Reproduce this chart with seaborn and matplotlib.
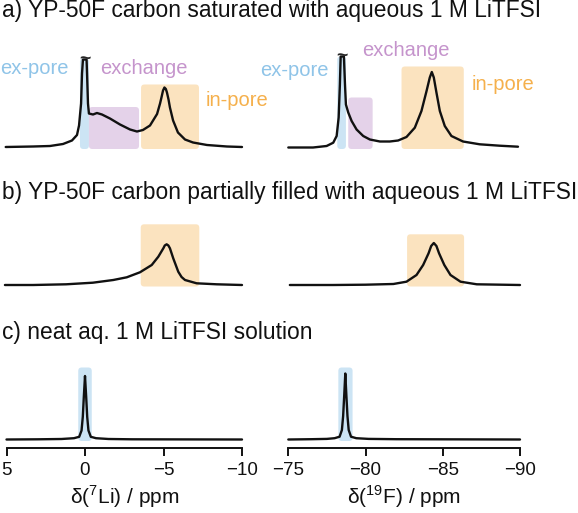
import matplotlib
matplotlib.use("Agg")
import matplotlib.pyplot as plt
import seaborn as sns
import pandas as pd
from matplotlib.patches import FancyBboxPatch

# ---- spectra (chemical shift in ppm, intensity in arbitrary units) ----
# a) saturated, 7Li
li_sat_ppm = [5.05, 3.31, 2.23, 1.40, 0.83, 0.51, 0.38, 0.25, 0.19, 0.13,
              -0.10, -0.13, -0.19, -0.25, -0.51, -0.76, -1.08, -1.59, -2.23, -2.87,
              -3.31, -3.69, -4.14, -4.59, -4.78, -4.87, -4.97, -5.06, -5.15, -5.22,
              -5.32, -5.41, -5.61, -5.92, -6.37, -6.88, -7.77, -9.04, -10.0]
li_sat_int = [0.5, 1, 1.5, 3.5, 7, 12.5, 22, 44, 74, 88,
              88, 74, 44, 34, 33, 34.5, 33, 29, 23, 18,
              16, 17.5, 22, 33.5, 44, 50, 57, 60, 58.5, 55,
              48, 40, 27, 15, 8, 5, 2.5, 1, 0.5]
# a) saturated, 19F
f_sat_ppm = [-75.0, -76.6, -77.48, -77.91, -78.13, -78.26, -78.34, -78.39, -78.60, -78.67,
             -78.73, -78.88, -79.10, -79.42, -79.85, -80.28, -80.93, -81.57, -82.11, -82.65,
             -83.19, -83.62, -83.95, -84.16, -84.29, -84.42, -84.59, -84.81, -85.13, -85.56,
             -86.31, -87.39, -88.68, -89.87]
f_sat_int = [0, 0, 1.5, 4.8, 11.5, 30, 63, 91, 91, 63,
             43, 35, 26.5, 18, 11.5, 8, 6, 6, 7, 10.5,
             19.8, 36.5, 56.5, 70, 75.5, 70, 55, 36.5, 21.5, 11.5,
             6, 3.2, 1.8, 0.8]

# b) partially filled
li_part_ppm = [5.1, 3.3, 1.2, -0.5, -1.8, -2.66, -3.5, -4.25, -4.67, -4.99,
               -5.08, -5.2, -5.31, -5.41, -5.62, -5.94, -6.15, -6.37, -7.11, -8.39, -10.0]
li_part_int = [0, 0, 0.7, 2.3, 5.0, 7.7, 12.7, 20, 28.3, 36.7,
               39.5, 40.7, 39.5, 36.7, 26.7, 13.3, 8, 5.0, 1.7, 0.7, 0]
f_part_ppm = [-75.1, -77.9, -80.0, -81.8, -82.65, -83.3, -83.73, -84.08, -84.25, -84.42,
              -84.59, -84.76, -85.1, -85.5, -86.15, -87.2, -90.0]
f_part_int = [0, 0, 0.3, 1.0, 3.3, 10, 20, 31.7, 39, 42,
              39, 31.7, 20, 10, 3.3, 0.7, 0]

# c) neat solution
li_neat_ppm = [5.0, 3.0, 1.5, 0.7, 0.37, 0.22, 0.14, 0.075, 0.0, -0.075,
               -0.14, -0.22, -0.37, -0.7, -1.5, -3.0, -10.0]
li_neat_int = [0.0, 0.2, 0.5, 1.3, 2.7, 9.0, 22.7, 42.7, 63.5, 42.7,
               22.7, 9.0, 2.7, 1.3, 0.5, 0.2, 0.0]
f_neat_ppm = [-75.0, -76.5, -77.5, -78.0, -78.32, -78.47, -78.55, -78.62, -78.69, -78.76,
              -78.83, -78.91, -79.06, -79.4, -80.2, -82.0, -90.0]
f_neat_int = [0.0, 0.3, 0.6, 1.3, 2.8, 9.5, 23.5, 44.0, 66.0, 44.0,
              23.5, 9.5, 2.8, 1.3, 0.6, 0.3, 0.0]

# shaded regions: (environment, ppm from, ppm to, top intensity)
li_sat_regions = [("ex-pore", 0.32, -0.25, 89), ("exchange", -0.25, -3.44, 40.5), ("in-pore", -3.57, -7.26, 63)]
f_sat_regions = [("ex-pore", -78.17, -78.73, 91), ("exchange", -78.88, -80.46, 50), ("in-pore", -82.33, -86.36, 81)]
li_part_regions = [("in-pore", -3.55, -7.28, 60.7)]
f_part_regions = [("in-pore", -82.69, -86.38, 50.7)]
li_neat_regions = [("ex-pore", 0.43, -0.43, 72)]
f_neat_regions = [("ex-pore", -78.24, -79.16, 72)]

li_ticks = [5, 0, -5, -10]
f_ticks = [-75, -80, -85, -90]

titles = ["a) YP-50F carbon saturated with aqueous 1 M LiTFSI",
          "b) YP-50F carbon partially filled with aqueous 1 M LiTFSI",
          "c) neat aq. 1 M LiTFSI solution"]

fill_colors = {"ex-pore": "#cce4f4", "exchange": "#e4d2e9", "in-pore": "#fbe3bf"}
text_colors = {"ex-pore": "#8fc4e8", "exchange": "#c594cc", "in-pore": "#f5b04c"}

sns.set_style("ticks")
plt.rcParams['font.family'] = ['Liberation Sans', 'DejaVu Sans']
plt.rcParams['mathtext.fontset'] = 'custom'
plt.rcParams['mathtext.rm'] = 'Liberation Sans'

W, H = 578, 513
fig = plt.figure(figsize=(W / 100, H / 100), dpi=100)


def px_axes(x0, x1, ytop, ybot):
    return fig.add_axes([x0 / W, 1 - ybot / H, (x1 - x0) / W, (ybot - ytop) / H])


def draw_panel(ax, ppm, inten, regions, xlim, ylim, aspect):
    for name, p0, p1, top in regions:
        lo, hi = min(p0, p1), max(p0, p1)
        box = FancyBboxPatch((lo, -1.5), hi - lo, top + 1.5,
                             boxstyle="round,pad=0,rounding_size=0.22",
                             mutation_aspect=aspect, fc=fill_colors[name], ec="none", zorder=1)
        ax.add_patch(box)
    df = pd.DataFrame({"ppm": ppm, "intensity": inten})
    sns.lineplot(data=df, x="ppm", y="intensity", ax=ax, sort=False, estimator=None,
                 color="#111111", linewidth=1.7, zorder=3)
    for line in ax.lines:
        line.set_clip_on(False)
    ax.set_xlim(*xlim)
    ax.set_ylim(*ylim)
    ax.set_xlabel("")
    ax.set_ylabel("")
    ax.set_yticks([])
    sns.despine(ax=ax, left=True, bottom=True)
    ax.set_xticks([])
    ax.patch.set_alpha(0)


# row a
ax_a1 = px_axes(6.5, 242, 40, 152)
draw_panel(ax_a1, li_sat_ppm, li_sat_int, li_sat_regions, (5, -10), (-4.5, 107.5), 15.7)
ax_a2 = px_axes(288.3, 520, 40, 152)
draw_panel(ax_a2, f_sat_ppm, f_sat_int, f_sat_regions, (-75, -90), (-4.5, 107.5), 15.45)
ax_a1.text(-0.0, 88, "~", ha="center", va="center", fontsize=14, fontweight="bold", zorder=4)
ax_a2.text(-78.5, 91, "~", ha="center", va="center", fontsize=14, fontweight="bold", zorder=4)

# row b
ax_b1 = px_axes(6.5, 242, 205, 290)
draw_panel(ax_b1, li_part_ppm, li_part_int, li_part_regions, (5, -10), (-5, 80), 15.7)
ax_b2 = px_axes(288.3, 520, 205, 290)
draw_panel(ax_b2, f_part_ppm, f_part_int, f_part_regions, (-75, -90), (-5, 80), 15.45)

# row c (with chemical shift axes)
ax_c1 = px_axes(6.5, 242, 355, 448)
draw_panel(ax_c1, li_neat_ppm, li_neat_int, li_neat_regions, (5, -10), (-8.5, 84.5), 15.7)
ax_c2 = px_axes(288.3, 520, 355, 448)
draw_panel(ax_c2, f_neat_ppm, f_neat_int, f_neat_regions, (-75, -90), (-8.5, 84.5), 15.45)
for ax, ticks, label in [(ax_c1, li_ticks, r"δ($^{\mathregular{7}}$Li) / ppm"),
                         (ax_c2, f_ticks, r"δ($^{\mathregular{19}}$F) / ppm")]:
    ax.spines["bottom"].set_visible(True)
    ax.spines["bottom"].set_linewidth(1.4)
    ax.spines["bottom"].set_color("#111111")
    ax.set_xticks(ticks)
    ax.tick_params(axis="x", direction="out", length=6, width=1.4, color="#111111",
                   labelsize=13.5, pad=4, labelcolor="#111111")
    ax.set_xlabel(label, fontsize=15, labelpad=3, color="#111111")

# region labels
labels = [("ex-pore", 0, 69), ("exchange", 100, 69), ("in-pore", 206, 101),
          ("ex-pore", 260, 70), ("exchange", 362, 50), ("in-pore", 472, 85)]
for name, x, y in labels:
    fig.text(x / W, 1 - y / H, name, color=text_colors[name], fontsize=14.5, ha="left", va="center")

# row titles
for title, y in zip(titles, [16.5, 199, 339]):
    fig.text(2.5 / W, 1 - y / H, title, fontsize=16.4, ha="left", va="baseline", color="#111111")

fig.savefig("out.png", dpi=100)
